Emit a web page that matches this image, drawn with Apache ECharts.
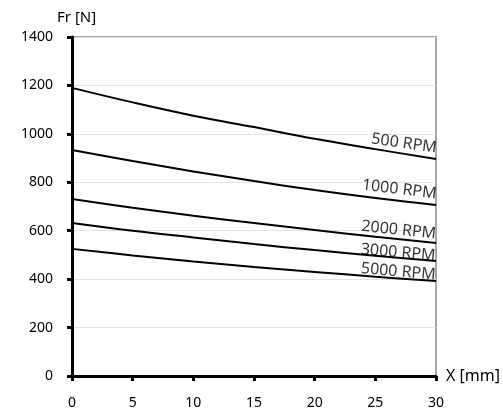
<!DOCTYPE html>
<html>
<head>
<meta charset="utf-8">
<script src="https://cdn.jsdelivr.net/npm/echarts@6/dist/echarts.min.js"></script>
<style>
  html, body { margin: 0; padding: 0; background: #fff; }
  #chart { width: 503px; height: 416px; }
</style>
</head>
<body>
<div id="chart"></div>
<script>
const xValues = [0, 5, 10, 15, 20, 25, 30];
const seriesNames = ['500 RPM', '1000 RPM', '2000 RPM', '3000 RPM', '5000 RPM'];
const rpm500 = [1190, 1130, 1075, 1028, 980, 937, 896];
const rpm1000 = [933, 888, 845, 805, 768, 735, 706];
const rpm2000 = [731, 695, 662, 632, 603, 575, 549];
const rpm3000 = [632, 600, 572, 545, 520, 497, 475];
const rpm5000 = [525, 498, 473, 450, 430, 410, 392];
const allValues = [rpm500, rpm1000, rpm2000, rpm3000, rpm5000];

// label tilt follows each curve's slope near the end
const labelTilt = [-8, -7, -6, -5, -5];
const labelShift = [[-1, -3], [-1, -3], [-1, -1], [-1, 3], [-1, 2]];

const fontFamily = '"Noto Sans", sans-serif';

const chart = echarts.init(document.getElementById('chart'));

const lineSeries = allValues.map((vals, i) => ({
    name: seriesNames[i],
    type: 'line',
    smooth: 0.4,
    showSymbol: false,
    lineStyle: { color: '#000', width: 2 },
    data: xValues.map((x, j) => [x, vals[j]]),
    z: 3
}));

const labelSeries = allValues.map((vals, i) => ({
    type: 'scatter',
    symbolSize: 0,
    silent: true,
    data: [[xValues[xValues.length - 1], vals[vals.length - 1]]],
    label: {
        show: true,
        position: [0, 0],
        align: 'right',
        verticalAlign: 'bottom',
        rotate: labelTilt[i],
        offset: labelShift[i],
        formatter: seriesNames[i],
        color: '#000',
        fontSize: 16,
        fontFamily: fontFamily
    },
    z: 4
}));

chart.setOption({
    animation: false,
    backgroundColor: '#fff',
    grid: {
        left: 72,
        right: 65,
        top: 37,
        bottom: 40,
        show: true,
        borderColor: '#a6a6a6',
        borderWidth: 2
    },
    xAxis: {
        type: 'value',
        min: 0,
        max: 30,
        interval: 5,
        name: 'X [mm]',
        nameLocation: 'end',
        nameGap: 10,
        nameTextStyle: { color: '#000', fontSize: 16, fontFamily: fontFamily },
        axisLine: { lineStyle: { color: '#000', width: 3 } },
        axisTick: { show: true, length: 5, lineStyle: { color: '#000', width: 3 } },
        axisLabel: { color: '#000', fontSize: 14, fontFamily: fontFamily, margin: 20 },
        splitLine: { show: false }
    },
    yAxis: {
        type: 'value',
        min: 0,
        max: 1400,
        interval: 200,
        name: 'Fr [N]',
        nameLocation: 'end',
        nameGap: 12,
        nameTextStyle: { color: '#000', fontSize: 15, fontFamily: fontFamily, align: 'left', padding: [0, 0, 0, -15] },
        axisLine: { show: true, lineStyle: { color: '#000', width: 3 } },
        axisTick: { show: true, length: 5, lineStyle: { color: '#000', width: 3 } },
        axisLabel: { color: '#000', fontSize: 14, fontFamily: fontFamily, margin: 19, formatter: v => String(v) },
        splitLine: { show: true, lineStyle: { color: '#e3e3e3', width: 1 } }
    },
    series: lineSeries.concat(labelSeries)
});
</script>
</body>
</html>
